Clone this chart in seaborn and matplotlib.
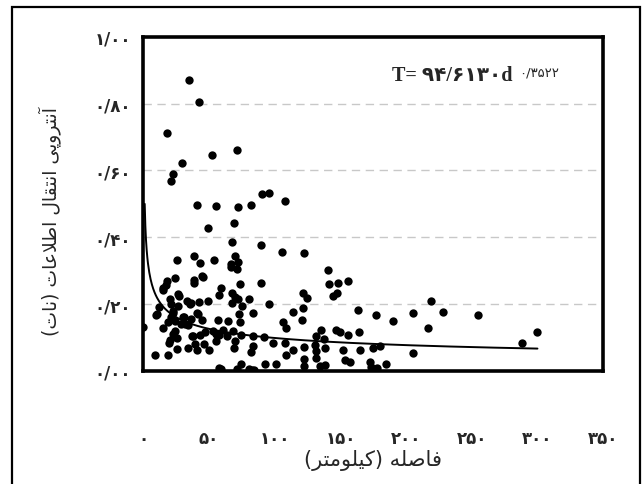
import matplotlib
matplotlib.use("Agg")
import matplotlib.pyplot as plt
from matplotlib.patches import Rectangle
import numpy as np
import pandas as pd
import seaborn as sns

# Distance between stations (km) and transfer entropy (nats)
distance_km = [
    34.4, 42.5, 18.1, 70.9, 52.5, 29.7, 22.2, 21.3, 90.6, 95.6,
    107.8, 40.6, 55.6, 71.9, 82.2, 69.1, 49.1, 89.4, 67.2, 105.9,
    122.5, 38.4, 70.0, 25.9, 53.4, 42.8, 71.9, 66.6, 66.9, 71.3,
    140.6, 45.0, 24.4, 18.1, 38.4, 38.4, 16.9, 155.6, 148.4, 141.6,
    89.4, 73.4, 59.1, 15.0, 67.2, 26.6, 121.6, 147.2, 144.4, 57.2,
    124.4, 70.0, 20.3, 71.9, 80.3, 33.4, 42.2, 49.1, 67.8, 75.0,
    26.6, 36.6, 21.3, 95.9, 219.1, 11.9, 22.8, 121.6, 163.1, 114.1,
    228.1, 205.6, 176.9, 255.0, 9.7, 40.6, 73.1, 83.8, 30.9, 21.3,
    35.9, 44.4, 56.6, 64.7, 120.6, 18.4, 24.1, 31.9, 189.7, 106.3,
    73.4, 28.4, 34.1, 0.0, 15.0, 108.8, 135.3, 216.9, 24.1, 60.9,
    68.4, 52.8, 55.6, 146.9, 150.0, 155.9, 164.1, 300.0, 22.2, 37.2,
    42.8, 57.2, 63.4, 74.4, 83.4, 92.2, 25.3, 20.0, 19.4, 46.3,
    39.1, 55.6, 70.0, 98.4, 108.1, 131.6, 137.2, 131.0, 121.9, 138.4,
    33.8, 25.3, 41.0, 50.0, 68.8, 83.1, 180.3, 174.7, 151.9, 165.0,
    113.8, 288.4, 205.3, 9.1, 18.4, 81.9, 108.8, 131.3, 131.3, 122.5,
    153.8, 157.2, 100.6, 92.5, 74.1, 172.5, 185.0, 138.4, 134.7, 122.5,
    177.5, 173.4, 57.5, 59.4, 70.9, 80.3, 84.1, 82.8,
    27.3, 45.2, 35.5, 41.8, 30.4, 46.9, 38.0, 14.6, 10.1, 22.7,
]
entropy_nat = [
    0.870, 0.806, 0.711, 0.661, 0.647, 0.621, 0.589, 0.569, 0.531, 0.533,
    0.509, 0.498, 0.494, 0.490, 0.497, 0.444, 0.427, 0.378, 0.385, 0.355,
    0.352, 0.343, 0.343, 0.333, 0.333, 0.322, 0.326, 0.319, 0.311, 0.304,
    0.301, 0.285, 0.278, 0.268, 0.273, 0.262, 0.258, 0.269, 0.262, 0.259,
    0.262, 0.259, 0.248, 0.248, 0.233, 0.231, 0.233, 0.232, 0.223, 0.227,
    0.218, 0.220, 0.215, 0.216, 0.214, 0.208, 0.207, 0.210, 0.202, 0.195,
    0.195, 0.202, 0.199, 0.200, 0.210, 0.191, 0.180, 0.188, 0.184, 0.177,
    0.176, 0.173, 0.169, 0.169, 0.169, 0.174, 0.171, 0.174, 0.162, 0.162,
    0.157, 0.154, 0.154, 0.150, 0.152, 0.147, 0.150, 0.142, 0.150, 0.148,
    0.146, 0.140, 0.138, 0.131, 0.128, 0.129, 0.124, 0.128, 0.121, 0.124,
    0.120, 0.120, 0.112, 0.122, 0.116, 0.108, 0.118, 0.117, 0.110, 0.106,
    0.108, 0.108, 0.104, 0.108, 0.104, 0.102, 0.098, 0.093, 0.085, 0.082,
    0.080, 0.090, 0.090, 0.085, 0.084, 0.104, 0.097, 0.078, 0.073, 0.068,
    0.068, 0.065, 0.063, 0.064, 0.068, 0.075, 0.075, 0.068, 0.062, 0.062,
    0.063, 0.084, 0.053, 0.049, 0.049, 0.057, 0.049, 0.060, 0.040, 0.035,
    0.032, 0.028, 0.022, 0.020, 0.021, 0.028, 0.020, 0.018, 0.016, 0.015,
    0.010, 0.012, 0.010, 0.007, 0.007, 0.006, 0.003, 0.003,
    0.225, 0.280, 0.199, 0.171, 0.161, 0.116, 0.106, 0.243, 0.171, 0.173,
]

# Power-law trend T = a * d^(-b)
trend_coef = 0.5
trend_exp = 0.3522
trend_range = [1.0, 300.0]

x_ticks = [0, 50, 100, 150, 200, 250, 300, 350]
x_tick_labels = ["۰", "۵۰", "۱۰۰", "۱۵۰", "۲۰۰", "۲۵۰", "۳۰۰", "۳۵۰"]
y_ticks = [0.0, 0.2, 0.4, 0.6, 0.8, 1.0]
y_tick_labels = ["۰/۰۰", "۰/۲۰", "۰/۴۰", "۰/۶۰", "۰/۸۰", "۱/۰۰"]

x_label = "فاصله (کیلومتر)"
y_label = "آنتروپی انتقال اطلاعات (نات)"
equation_main = "T= ۹۴/۶۱۳۰d"
equation_exp = "۰/۳۵۲۲"

# Contextual letter forms (isolated, final, initial, medial) for Persian shaping
FORMS = {
    "ا": ("\uFE8D", "\uFE8E", None, None),
    "آ": ("\uFE81", "\uFE82", None, None),
    "ر": ("\uFEAD", "\uFEAE", None, None),
    "و": ("\uFEED", "\uFEEE", None, None),
    "لا": ("\uFEFB", "\uFEFC", None, None),
    "ت": ("\uFE95", "\uFE96", "\uFE97", "\uFE98"),
    "پ": ("\uFB56", "\uFB57", "\uFB58", "\uFB59"),
    "ی": ("\uFBFC", "\uFBFD", "\uFBFE", "\uFBFF"),
    "ن": ("\uFEE5", "\uFEE6", "\uFEE7", "\uFEE8"),
    "ق": ("\uFED5", "\uFED6", "\uFED7", "\uFED8"),
    "ل": ("\uFEDD", "\uFEDE", "\uFEDF", "\uFEE0"),
    "ط": ("\uFEC1", "\uFEC2", "\uFEC3", "\uFEC4"),
    "ع": ("\uFEC9", "\uFECA", "\uFECB", "\uFECC"),
    "ف": ("\uFED1", "\uFED2", "\uFED3", "\uFED4"),
    "ص": ("\uFEB9", "\uFEBA", "\uFEBB", "\uFEBC"),
    "ه": ("\uFEE9", "\uFEEA", "\uFEEB", "\uFEEC"),
    "ک": ("\uFB8E", "\uFB8F", "\uFB90", "\uFB91"),
    "م": ("\uFEE1", "\uFEE2", "\uFEE3", "\uFEE4"),
}


def shape_rtl(text):
    """Join Persian letters into contextual forms and order them for LTR drawing."""
    tokens, i = [], 0
    while i < len(text):
        if text[i:i + 2] == "لا":
            tokens.append("لا")
            i += 2
        else:
            tokens.append(text[i])
            i += 1
    out = []
    for k, tok in enumerate(tokens):
        if tok not in FORMS:
            out.append(tok)
            continue
        prev = tokens[k - 1] if k > 0 else None
        nxt = tokens[k + 1] if k + 1 < len(tokens) else None
        jp = prev in FORMS and FORMS[prev][2] is not None
        jn = FORMS[tok][2] is not None and nxt in FORMS
        iso, fin, ini, med = FORMS[tok]
        if jp and jn:
            out.append(med)
        elif jp:
            out.append(fin)
        elif jn:
            out.append(ini)
        else:
            out.append(iso)
    mirror = {"(": ")", ")": "("}
    return "".join(mirror.get(c, c) for c in reversed(out))


sns.set_style("white")
plt.rcParams["font.family"] = ["DejaVu Sans"]

df = pd.DataFrame({"distance": distance_km, "entropy": entropy_nat})
trend_x = np.linspace(trend_range[0], trend_range[1], 600)
trend = pd.DataFrame({"distance": trend_x,
                      "entropy": trend_coef * trend_x ** (-trend_exp)})

fig = plt.figure(figsize=(6.43, 4.85), dpi=100)
ax = fig.add_axes([0.223, 0.233, 0.715, 0.689])

for yv in [0.2, 0.4, 0.6, 0.8]:
    ax.axhline(yv, color="#c8c8c8", lw=1.0, dashes=(6, 4), zorder=0)

sns.scatterplot(data=df, x="distance", y="entropy", ax=ax, color="black",
                s=36, edgecolor="black", linewidth=0, zorder=3, legend=False)
sns.lineplot(data=trend, x="distance", y="entropy", ax=ax, color="black",
             lw=1.4, zorder=4, legend=False)

ax.set_xlim(0, 350)
ax.set_ylim(0, 1.0)
ax.set_xticks(x_ticks)
ax.set_xticklabels(x_tick_labels, fontsize=12, fontweight="bold")
ax.set_yticks(y_ticks)
ax.set_yticklabels(y_tick_labels, fontsize=12, fontweight="bold")
ax.tick_params(axis="x", direction="out", length=6, width=0.8, color="#a0a0a0",
               pad=36)
ax.tick_params(axis="y", direction="out", length=6, width=0.8, color="#a0a0a0",
               pad=3)

for sp in ax.spines.values():
    sp.set_visible(True)
    sp.set_color("black")
    sp.set_linewidth(2.6)

ax.set_xlabel(shape_rtl(x_label), fontsize=15, labelpad=1)
ax.set_ylabel(shape_rtl(y_label), fontsize=13.5)
ax.yaxis.set_label_coords(-0.18, 0.45)

eq = ax.text(0.54, 0.885, equation_main, transform=ax.transAxes, fontsize=14.5,
             fontweight="bold", family=["Liberation Serif", "DejaVu Sans"],
             ha="left", va="center")
ax.annotate(equation_exp, xy=(1.0, 0.5), xycoords=eq, xytext=(5, 2),
            textcoords="offset points", fontsize=9.5, family=["DejaVu Sans"],
            ha="left", va="center")

fig.patches.append(Rectangle((0.019, -0.02), 0.976, 1.003, transform=fig.transFigure,
                             fill=False, edgecolor="black", lw=1.6))

fig.savefig("out.png", dpi=100)
